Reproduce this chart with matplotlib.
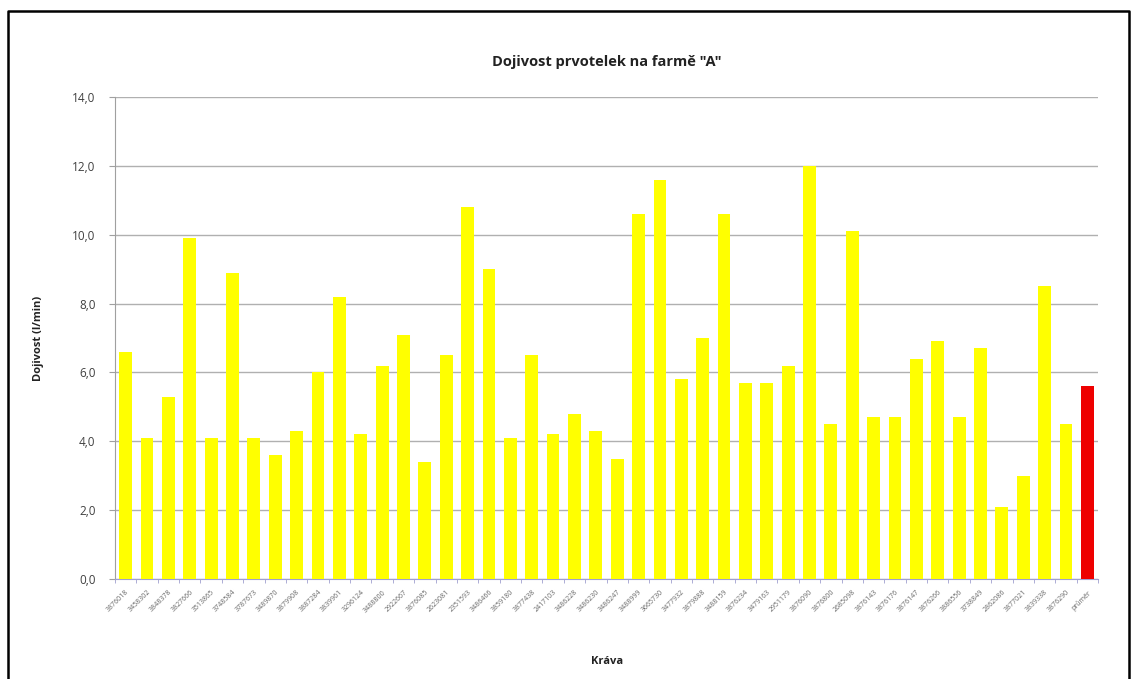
import matplotlib
matplotlib.use("Agg")
import matplotlib.pyplot as plt
from matplotlib.lines import Line2D
from matplotlib.ticker import FuncFormatter, MultipleLocator
import numpy as np

# cow IDs (last column = herd average)
cows = ["3876018", "3458302", "3848378", "3827666", "3513865", "3748584", "3787673",
        "3489870", "3879908", "3887284", "3839961", "3296124", "3488800", "2922667",
        "3876085", "2623081", "2351593", "3486466", "3859180", "3877438", "2417103",
        "3486228", "3486230", "3486247", "3488999", "3665730", "3477932", "3879888",
        "3488159", "3876234", "3479163", "2951179", "3876090", "3876800", "2685098",
        "3876143", "3876176", "3876147", "3876266", "3886556", "3738849", "2862086",
        "3877021", "3839338", "3876290", "průměr"]
flow = [6.6, 4.1, 5.3, 9.9, 4.1, 8.9, 4.1, 3.6, 4.3, 6.0,
        8.2, 4.2, 6.2, 7.1, 3.4, 6.5, 10.8, 9.0, 4.1, 6.5,
        4.2, 4.8, 4.3, 3.5, 10.6, 11.6, 5.8, 7.0, 10.6, 5.7,
        5.7, 6.2, 12.0, 4.5, 10.1, 4.7, 4.7, 6.4, 6.9, 4.7,
        6.7, 2.1, 3.0, 8.5, 4.5, 5.6]

W, H = 1132, 679
fig = plt.figure(figsize=(W / 100, H / 100), dpi=100)
fig.patch.set_facecolor("white")
ax = fig.add_axes([115 / W, 1 - 579 / H, (1098 - 115) / W, (579 - 97) / H])

x = np.arange(len(cows))
colors = ["#ffff00"] * (len(cows) - 1) + ["#ee0000"]
ax.bar(x, flow, width=0.6, color=colors, zorder=3)

ax.set_xlim(-0.5, len(cows) - 0.5)
ax.set_ylim(0, 14)
ax.yaxis.set_major_locator(MultipleLocator(2))
ax.yaxis.set_major_formatter(FuncFormatter(lambda v, p: f"{v:.1f}".replace(".", ",")))
ax.grid(axis="y", color="#b0b0b0", linewidth=1.0, zorder=0)

ax.set_xticks(x)
ax.set_xticklabels(cows, rotation=45, ha="right", rotation_mode="anchor",
                   fontsize=5, color="#666666", family="Open Sans")
ax.set_xticks(np.arange(-0.5, len(cows)), minor=True)
ax.tick_params(axis="x", which="major", length=0, pad=7)
ax.tick_params(axis="x", which="minor", length=3, color="#a0a0d0")
ax.tick_params(axis="y", length=4, color="#a0a0a0", labelsize=8.5, labelcolor="#404040", pad=10)
for lbl in ax.get_yticklabels():
    lbl.set_family("Open Sans")

for s in ["top", "right"]:
    ax.spines[s].set_visible(False)
ax.spines["left"].set_color("#a0a0a0")
ax.spines["bottom"].set_color("#a0a0d0")

fig.text(607 / W, 1 - 62 / H, 'Dojivost prvotelek na farmě "A"', ha="center", va="center",
         fontsize=10.5, fontweight="bold", family="Open Sans", color="#222222")
fig.text(38 / W, 1 - 338 / H, "Dojivost (l/min)", ha="center", va="center", rotation=90,
         fontsize=8, fontweight="bold", family="Open Sans", color="#222222")
fig.text(607 / W, 1 - 661 / H, "Kráva", ha="center", va="center",
         fontsize=8, fontweight="bold", family="Open Sans", color="#222222")

# black frame around the chart area (open at the bottom)
fx = [8 / W, 8 / W, 1129 / W, 1129 / W]
fy = [0, 1 - 11 / H, 1 - 11 / H, 0]
fig.add_artist(Line2D(fx, fy, transform=fig.transFigure, color="black", linewidth=1.8))

fig.savefig("out.png", dpi=100)
